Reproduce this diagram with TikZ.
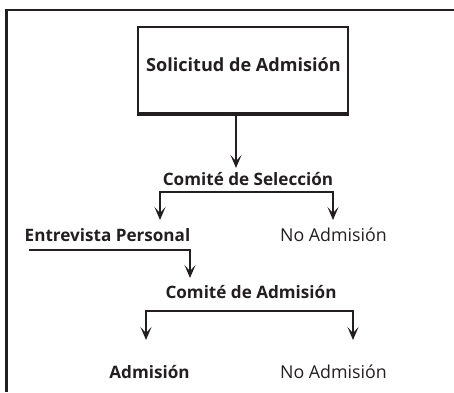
\documentclass[tikz,border=0pt]{standalone}
\usepackage{fontspec}
\setmainfont{Open Sans}
\usetikzlibrary{arrows.meta}
\definecolor{ink}{HTML}{231F20}
\tikzset{
  lbl/.style={inner sep=0pt, anchor=base, text=ink, font=\fontsize{17.8}{20}\selectfont},
  blbl/.style={lbl, font=\fontsize{17.1}{20}\selectfont\bfseries},
  tlbl/.style={lbl, font=\fontsize{18.1}{20}\selectfont\bfseries},
  conn/.style={draw=ink, line width=2.2pt},
  tip/.tip={Stealth[length=13pt,width=11pt,inset=6pt]},
  arr/.style={conn, -tip},
  arrs/.style={conn, tip-tip},
  frame/.style={draw=ink, line width=2.2pt},
  boxst/.style={draw=ink, line width=1.6pt, minimum width=210pt, minimum height=86pt, inner sep=0pt}
}
\begin{document}
\begin{tikzpicture}[x=1pt,y=-1pt]
\useasboundingbox (0,0) rectangle (454,392);
% outer frame (top and left only)
\draw[frame] (454,10) -- (6.5,10) -- (6.5,392);
% top box
\node[boxst] (sol) at (243,70) {};
\node[tlbl] (solt) at (243.5,71.7) {Solicitud de Admisión};
\draw[draw=ink, line width=3pt] ([yshift=-0.75pt]sol.south west) -- ([yshift=-0.75pt]sol.south east);
% labels
\node[blbl] (cs) at (248,185) {Comité de Selección};
\node[blbl] (ep) at (107.5,241.7) {Entrevista Personal};
\node[lbl] (na1) at (333.5,241.7) {No Admisión};
\node[blbl] (ca) at (251,298.3) {Comité de Admisión};
\node[blbl] (adm) at (149.5,378.3) {Admisión};
\node[lbl] (na2) at (333.5,378.3) {No Admisión};
% coordinates
\coordinate (a0) at (236,113);
\coordinate (a0t) at (236,168);
\coordinate (t1l) at (160,220);
\coordinate (t1r) at (333,220);
\coordinate (b1) at (0,192);
\coordinate (u0) at (29,250);
\coordinate (u1) at (190,250);
\coordinate (u1t) at (190,278);
\coordinate (t2l) at (146,340);
\coordinate (t2r) at (353,340);
\coordinate (b2) at (0,311);
% connectors
\draw[arr] (a0) -- (a0t);
\draw[arrs] (t1l) -- (t1l |- b1) -- (t1r |- b1) -- (t1r);
\draw[arr] (u0) -- (u1) -- (u1t);
\draw[arrs] (t2l) -- (t2l |- b2) -- (t2r |- b2) -- (t2r);
\end{tikzpicture}
\end{document}
